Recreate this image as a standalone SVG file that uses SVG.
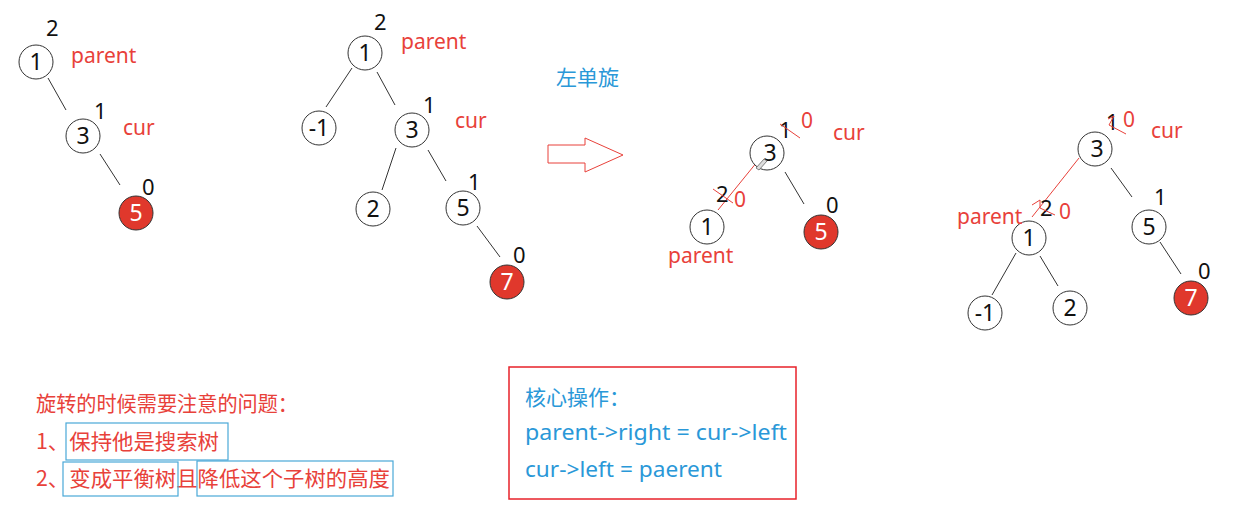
<svg xmlns="http://www.w3.org/2000/svg" width="1242" height="519" viewBox="0 0 1242 519">
<style>
.n{fill:#fff;stroke:#333;stroke-width:1}
.r{fill:#e0382c;stroke:#333;stroke-width:1}
.t{font-family:"Noto Sans","Noto Sans CJK SC",sans-serif;font-size:23px;fill:#111;text-anchor:middle}
.tw{font-family:"Noto Sans","Noto Sans CJK SC",sans-serif;font-size:23px;fill:#fff;text-anchor:middle}
.b{font-family:"Noto Sans","Noto Sans CJK SC",sans-serif;font-size:22px;fill:#111}
.lab{font-family:"Noto Sans","Noto Sans CJK SC",sans-serif;font-size:21px;fill:#e8413a}
.blue{font-family:"Noto Sans","Noto Sans CJK SC",sans-serif;font-size:21px;fill:#2a98d8}
.cn{font-family:"Noto Sans CJK SC",sans-serif;font-size:21px;fill:#e8413a}
.e{stroke:#333;stroke-width:1;fill:none}
.re{stroke:#e8413a;stroke-width:1;fill:none}
.bx{fill:none;stroke:#4aa8d8;stroke-width:1.2}
</style>
<rect width="1242" height="519" fill="#fff"/>
<g id="connectors">
<line class="e" x1="48" y1="78" x2="66" y2="110"/>
<line class="e" x1="100" y1="154" x2="120" y2="185"/>
<line class="e" x1="352" y1="68" x2="326" y2="107"/>
<line class="e" x1="377" y1="72" x2="395" y2="105"/>
<line class="e" x1="396" y1="148" x2="382" y2="190"/>
<line class="e" x1="428" y1="150" x2="446" y2="181"/>
<line class="e" x1="477" y1="226" x2="500" y2="257"/>
<line class="re" x1="757" y1="162" x2="718" y2="210"/>
<line class="e" x1="785" y1="172" x2="804" y2="204"/>
<line class="re" x1="1079" y1="158" x2="1032" y2="217"/>
<line class="e" x1="1111" y1="168" x2="1132" y2="197"/>
<line class="e" x1="1016" y1="253" x2="992" y2="295"/>
<line class="e" x1="1040" y1="256" x2="1058" y2="286"/>
<line class="e" x1="1160" y1="242" x2="1181" y2="274"/>
</g>
<g id="tree1">
<g id="t1n1"><circle class="n" cx="36" cy="62" r="17"/><text class="t" x="36" y="70">1</text></g>
<g id="t1n3"><circle class="n" cx="83" cy="136" r="17"/><text class="t" x="83" y="144">3</text></g>
<g id="t1n5"><circle class="r" cx="136" cy="213" r="17"/><text class="tw" x="136" y="221">5</text></g>
<text class="b" x="46" y="36">2</text>
<text class="b" x="94" y="119">1</text>
<text class="b" x="142" y="195">0</text>
<text class="lab" x="71" y="63">parent</text>
<text class="lab" x="123" y="135">cur</text>
</g>
<g id="tree2">
<g id="t2n1"><circle class="n" cx="365" cy="53" r="17"/><text class="t" x="365" y="61">1</text></g>
<g id="t2nm1"><circle class="n" cx="319" cy="128" r="17"/><text class="t" x="319" y="136">-1</text></g>
<g id="t2n3"><circle class="n" cx="412" cy="130" r="17"/><text class="t" x="412" y="138">3</text></g>
<g id="t2n2"><circle class="n" cx="373" cy="209" r="17"/><text class="t" x="373" y="217">2</text></g>
<g id="t2n5"><circle class="n" cx="463" cy="208" r="17"/><text class="t" x="463" y="216">5</text></g>
<g id="t2n7"><circle class="r" cx="507" cy="282" r="17"/><text class="tw" x="507" y="290">7</text></g>
<text class="b" x="374" y="30">2</text>
<text class="b" x="423" y="113">1</text>
<text class="b" x="468" y="190">1</text>
<text class="b" x="513" y="263">0</text>
<text class="lab" x="401" y="49">parent</text>
<text class="lab" x="455" y="128">cur</text>
</g>
<g id="arrow">
<path d="M548,145 L585,145 L585,138 L623,155 L585,172 L585,163 L548,163 Z" fill="#fff" stroke="#e8413a" stroke-width="1"/>
<text class="blue" x="556" y="85" style="font-family:'Noto Sans CJK SC',sans-serif">左单旋</text>
</g>
<g id="tree3">
<g id="t3n3"><circle class="n" cx="767" cy="153" r="17"/><text class="t" x="770" y="161">3</text></g>
<g id="t3n1"><circle class="n" cx="707" cy="227" r="17"/><text class="t" x="707" y="235">1</text></g>
<g id="t3n5"><circle class="r" cx="821" cy="232" r="17"/><text class="tw" x="821" y="240">5</text></g>
<path d="M756,168 L764,159 L767,161 L759,170 Z" fill="#ddd" stroke="#666" stroke-width="0.8"/>
<text class="b" x="779" y="138">1</text>
<line class="re" x1="780" y1="124" x2="800" y2="138"/>
<text class="lab" x="801" y="128">0</text>
<text class="b" x="716" y="202">2</text>
<line class="re" x1="713" y1="189" x2="733" y2="203"/>
<text class="lab" x="734" y="207">0</text>
<text class="b" x="826" y="213">0</text>
<text class="lab" x="833" y="140">cur</text>
<text class="lab" x="668" y="263">parent</text>
</g>
<g id="tree4">
<g id="t4n3"><circle class="n" cx="1095" cy="149" r="17"/><text class="t" x="1097" y="157">3</text></g>
<g id="t4n1"><circle class="n" cx="1029" cy="238" r="17"/><text class="t" x="1029" y="246">1</text></g>
<g id="t4n5"><circle class="n" cx="1149" cy="227" r="17"/><text class="t" x="1149" y="235">5</text></g>
<g id="t4nm1"><circle class="n" cx="985" cy="313" r="17"/><text class="t" x="985" y="321">-1</text></g>
<g id="t4n2"><circle class="n" cx="1070" cy="308" r="17"/><text class="t" x="1070" y="316">2</text></g>
<g id="t4n7"><circle class="r" cx="1191" cy="298" r="17"/><text class="tw" x="1191" y="306">7</text></g>
<text class="b" x="1106" y="130">1</text>
<path class="re" d="M1108,119 L1114,116 L1109,125 L1126,134"/>
<text class="lab" x="1123" y="127">0</text>
<text class="b" x="1040" y="216">2</text>
<path class="re" d="M1032,205 L1040,200 L1040,208 L1055,215"/>
<text class="lab" x="1059" y="219">0</text>
<text class="b" x="1154" y="205">1</text>
<text class="b" x="1198" y="279">0</text>
<text class="lab" x="1151" y="138">cur</text>
<text class="lab" x="957" y="224">parent</text>
</g>
<g id="notes">
<text class="cn" x="36" y="411" textLength="262" lengthAdjust="spacingAndGlyphs">旋转的时候需要注意的问题：</text>
<text class="cn" x="36" y="449" textLength="183" lengthAdjust="spacingAndGlyphs">1、保持他是搜索树</text>
<text class="cn" x="36" y="486" textLength="354" lengthAdjust="spacingAndGlyphs">2、变成平衡树且降低这个子树的高度</text>
<rect class="bx" x="66" y="423" width="162" height="37"/>
<rect class="bx" x="63" y="462" width="115" height="34"/>
<rect class="bx" x="197" y="461" width="196" height="35"/>
</g>
<g id="core">
<rect x="509" y="367" width="287" height="132" fill="none" stroke="#e8222a" stroke-width="1.5"/>
<text class="blue" x="525" y="405" style="font-family:'Noto Sans CJK SC',sans-serif">核心操作：</text>
<text class="blue" x="525" y="440" textLength="262" lengthAdjust="spacingAndGlyphs">parent-&gt;right = cur-&gt;left</text>
<text class="blue" x="525" y="477" textLength="197" lengthAdjust="spacingAndGlyphs">cur-&gt;left = paerent</text>
</g>
</svg>
